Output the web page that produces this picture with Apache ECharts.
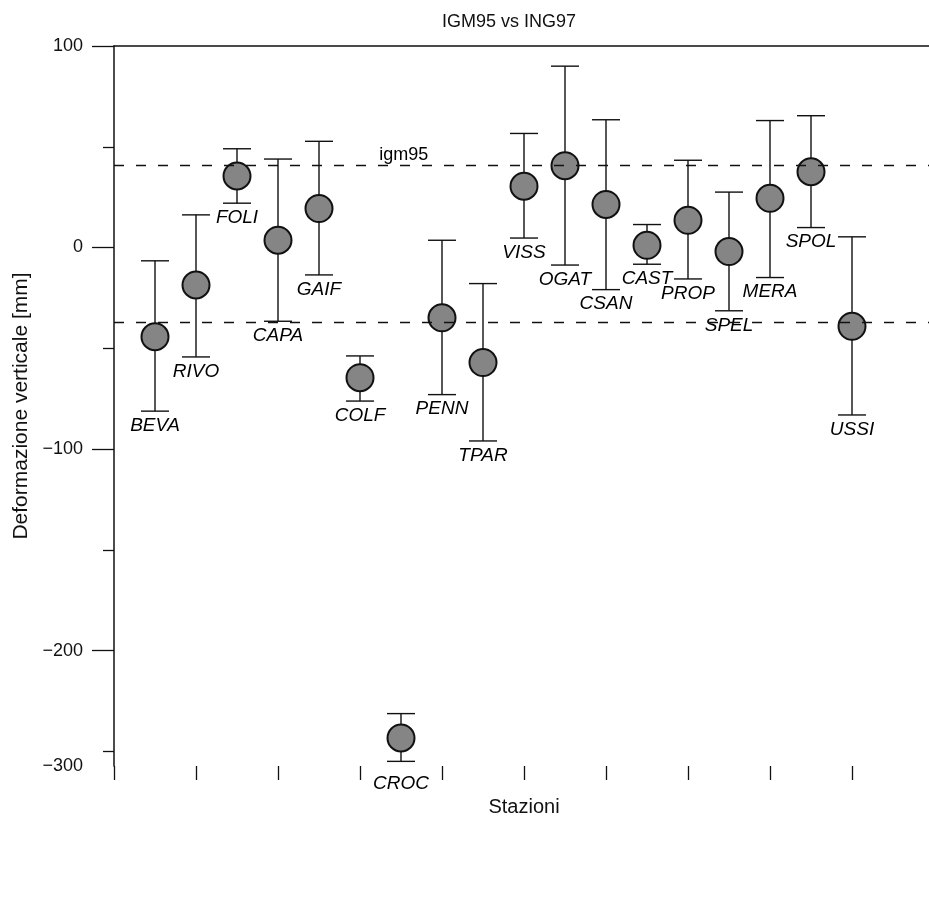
<!DOCTYPE html>
<html><head><meta charset="utf-8">
<script src="https://cdn.jsdelivr.net/npm/echarts@6/dist/echarts.min.js"></script>
<style>html,body{margin:0;padding:0;background:#fff}#c{width:929px;height:901px}</style>
</head><body><div id="c"></div>
<script>
// ---- data ----
const stations = ['BEVA','RIVO','FOLI','CAPA','GAIF','COLF','CROC','PENN','TPAR','VISS','OGAT','CSAN','CAST','PROP','SPEL','MERA','SPOL','USSI'];
const values = [-44.3, -18.6, 35.5, 3.6, 19.3, -64.6, -243.4, -34.9, -57.1, 30.4, 40.6, 21.4, 1.1, 13.5, -2.0, 24.4, 37.6, -39.1];
const lows   = [-81.2, -54.3, 22.0, -36.6, -13.6, -76.2, -255.0, -73.0, -96.0, 4.7, -8.7, -20.9, -8.3, -15.6, -31.4, -14.9, 9.9, -83.1];
const highs  = [-6.6, 16.2, 49.0, 43.9, 52.7, -53.8, -231.3, 3.6, -17.9, 56.6, 90.0, 63.4, 11.4, 43.3, 27.5, 63.0, 65.4, 5.3];
const refLines = [41, -37];
const refLabel = 'igm95';
const yTickValues = [100, 0, -100, -200];
const yTickLabels = ['100', '0', '\u2212100', '\u2212200'];
const yMinorTickValues = [50, -50, -150, -250];
const yBottomTickLabel = '\u2212300';
const xTickValues = [0, 2, 4, 6, 8, 10, 12, 14, 16, 18, 20];
const titleText = 'IGM95 vs ING97';
const xName = 'Stazioni';
const yName = 'Deformazione verticale [mm]';

// ---- chart ----
const FONT = "'Liberation Sans', Arial, Helvetica, sans-serif";
const INK = '#111';
const yMin = -257.3, yMax = 100;
const xMin = 0, xMax = 20;
const igmLabelX = 7.07;

const chart = echarts.init(document.getElementById('c'), null, {renderer: 'canvas'});
const pts = stations.map((s, i) => [i + 1, values[i]]);
const bars = stations.map((s, i) => [i + 1, lows[i], highs[i]]);
const labs = stations.map((s, i) => ({
  value: [i + 1, lows[i]], name: s,
  label: s === 'CROC' ? {distance: 13} : undefined
}));

chart.setOption({
  animation: false,
  backgroundColor: '#fff',
  title: {
    text: titleText, left: 437, top: 8,
    textStyle: {fontFamily: FONT, fontSize: 18, fontWeight: 'normal', color: INK}
  },
  grid: {left: 114, right: -5, top: 46, bottom: 135, outerBoundsMode: 'none', containLabel: false},
  xAxis: [{
    type: 'value', min: xMin, max: xMax, position: 'bottom',
    axisLine: {show: false, onZero: false},
    axisTick: {show: true, inside: false, length: 14, customValues: xTickValues, lineStyle: {color: INK, width: 1.3}},
    axisLabel: {show: false},
    splitLine: {show: false},
    name: xName, nameLocation: 'middle', nameGap: 31,
    nameTextStyle: {fontFamily: FONT, fontSize: 20, color: INK}
  }, {
    type: 'value', min: xMin, max: xMax, position: 'top',
    axisLine: {show: true, onZero: false, lineStyle: {color: INK, width: 1.5}},
    axisTick: {show: false}, axisLabel: {show: false}, splitLine: {show: false}
  }],
  yAxis: [{
    type: 'value', min: yMin, max: yMax, position: 'left',
    axisLine: {show: true, onZero: false, lineStyle: {color: INK, width: 1.5}},
    axisTick: {show: true, inside: false, length: 22, customValues: yTickValues, lineStyle: {color: INK, width: 1.3}},
    axisLabel: {
      show: true, customValues: yTickValues, margin: 31,
      formatter: v => { const k = yTickValues.indexOf(v); return k >= 0 ? yTickLabels[k] : ''; },
      fontFamily: FONT, fontSize: 18, color: INK
    },
    splitLine: {show: false},
    name: yName, nameLocation: 'middle', nameGap: 80, nameRotate: 90,
    nameTextStyle: {fontFamily: FONT, fontSize: 21, color: INK}
  }, {
    type: 'value', min: yMin, max: yMax, position: 'left',
    axisLine: {show: false, onZero: false},
    axisTick: {show: true, inside: false, length: 11, customValues: yMinorTickValues, lineStyle: {color: INK, width: 1.3}},
    axisLabel: {
      show: true, customValues: [yMin], margin: 31,
      formatter: () => yBottomTickLabel,
      fontFamily: FONT, fontSize: 18, color: INK
    },
    splitLine: {show: false}
  }],
  series: [{
    type: 'custom', xAxisIndex: 0, yAxisIndex: 0, clip: false, silent: true, z: 2,
    data: bars,
    encode: {x: 0, y: [1, 2]},
    renderItem: function (params, api) {
      const x = api.value(0), lo = api.value(1), hi = api.value(2);
      const a = api.coord([x, lo]), b = api.coord([x, hi]);
      const hw = 14;
      const st = {stroke: INK, lineWidth: 1.4, fill: null};
      return {type: 'group', children: [
        {type: 'line', shape: {x1: a[0], y1: a[1], x2: b[0], y2: b[1]}, style: st},
        {type: 'line', shape: {x1: a[0] - hw, y1: a[1], x2: a[0] + hw, y2: a[1]}, style: st},
        {type: 'line', shape: {x1: b[0] - hw, y1: b[1], x2: b[0] + hw, y2: b[1]}, style: st}
      ]};
    }
  }, {
    type: 'scatter', xAxisIndex: 0, yAxisIndex: 0, silent: true, z: 3,
    data: pts, symbol: 'circle', symbolSize: 27,
    itemStyle: {color: '#858585', borderColor: INK, borderWidth: 2, opacity: 1},
    markLine: {
      silent: true, symbol: ['none', 'none'],
      lineStyle: {color: INK, type: [10, 12], width: 1.3},
      label: {show: false},
      data: refLines.map(v => ({yAxis: v}))
    }
  }, {
    type: 'scatter', xAxisIndex: 0, yAxisIndex: 0, silent: true, z: 4,
    data: labs, symbol: 'circle', symbolSize: 0.1,
    itemStyle: {color: 'rgba(0,0,0,0)'},
    label: {
      show: true, position: 'bottom', distance: 5, formatter: '{b}',
      fontFamily: FONT, fontSize: 19, fontStyle: 'italic', color: '#000', opacity: 1
    }
  }, {
    type: 'scatter', xAxisIndex: 0, yAxisIndex: 0, silent: true, z: 4,
    data: [{value: [igmLabelX, refLines[0]], name: refLabel}],
    symbol: 'circle', symbolSize: 0.1, itemStyle: {color: 'rgba(0,0,0,0)'},
    label: {show: true, position: 'top', distance: 1, formatter: '{b}',
      fontFamily: FONT, fontSize: 18, color: '#000', opacity: 1}
  }]
});
</script>
</body></html>
